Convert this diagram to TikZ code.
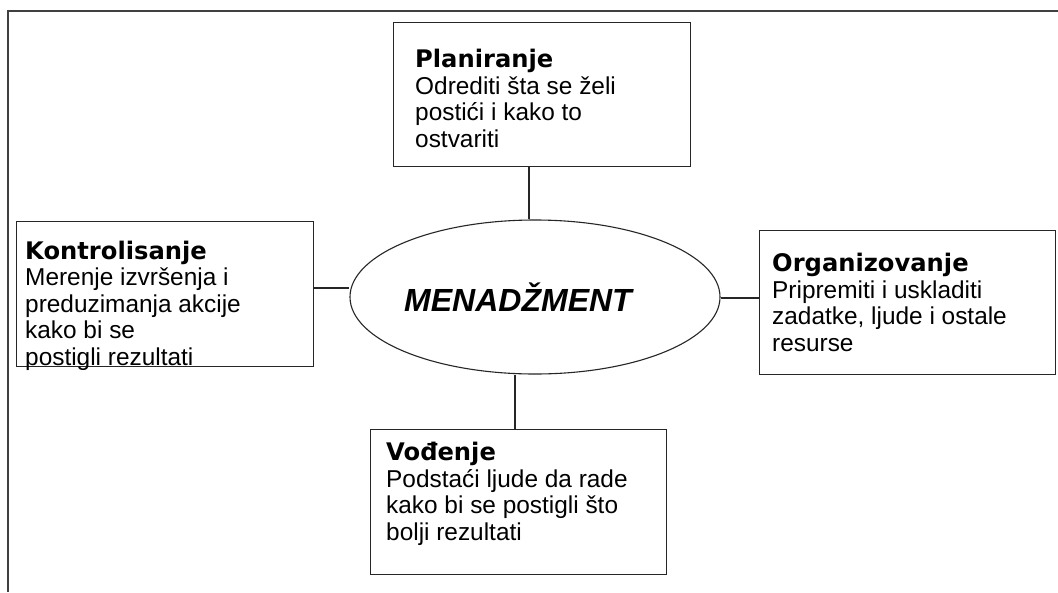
\documentclass[tikz,border=0pt]{standalone}
\usepackage{fontspec}
\setmainfont{Liberation Sans}
\newfontfamily\titlefam{DejaVu Sans}
\usetikzlibrary{shapes.geometric}
\tikzset{
  box/.style={draw=black!85, line width=1.4pt, rectangle, inner sep=0pt, anchor=north west},
  link/.style={draw=black!85, line width=1.4pt},
  lbl/.style={anchor=base west, align=left, inner sep=0pt, text=black,
    font=\fontsize{24.4}{26.4}\selectfont},
}
\newcommand{\ttl}[1]{{\titlefam\bfseries\fontsize{24.2}{26.4}\selectfont #1}}
\begin{document}
\begin{tikzpicture}[x=1pt,y=-1pt]
\useasboundingbox (0,0) rectangle (1058,592);
\fill[white] (0,0) rectangle (1058,592);
% outer frame (top and left edges only)
\coordinate (ftl) at (8,11);
\coordinate (ftr) at (1058,11);
\coordinate (fbl) at (8,592);
\draw[draw=black!75, line width=2pt] (ftr) -- (ftl) -- (fbl);

% central ellipse
\node[ellipse, draw=black!85, line width=1.1pt, minimum width=370pt, minimum height=154pt, inner sep=0pt] (m) at (535,297) {};
\node[anchor=center, inner sep=0pt, font=\fontsize{32}{32}\selectfont\bfseries\itshape] (mt) at (518,297) {MENADŽMENT};

% boxes
\node[box, minimum width=297pt, minimum height=144pt] (plan) at (393,22) {};
\node[box, minimum width=297pt, minimum height=145pt] (kont) at (16,221) {};
\node[box, minimum width=296pt, minimum height=144pt] (org) at (759,230) {};
\node[box, minimum width=296pt, minimum height=145pt] (vod) at (370,429) {};

% texts (anchored at the baseline of their last line)
\node[lbl] (plant) at (415,147) {\ttl{Planiranje}\\Odrediti šta se želi\\postići i kako to\\ostvariti};
\node[lbl] (kontt) at (25,365) {\ttl{Kontrolisanje}\\Merenje izvršenja i\\preduzimanja akcije\\kako bi se\\postigli rezultati};
\node[lbl] (orgt) at (772,351) {\ttl{Organizovanje}\\Pripremiti i uskladiti\\zadatke, ljude i ostale\\resurse};
\node[lbl] (vodt) at (386,540) {\ttl{Vođenje}\\Podstaći ljude da rade\\kako bi se postigli što\\bolji rezultati};

% connectors
\draw[link] (plan.south -| 529,0) -- (m.north -| 529,0);
\draw[link] (kont.east |- 0,288) -- (m.west |- 0,288);
\draw[link] (m.east |- 0,298) -- (org.west |- 0,298);
\draw[link] (m.south -| 515,0) -- (vod.north -| 515,0);
\end{tikzpicture}
\end{document}
